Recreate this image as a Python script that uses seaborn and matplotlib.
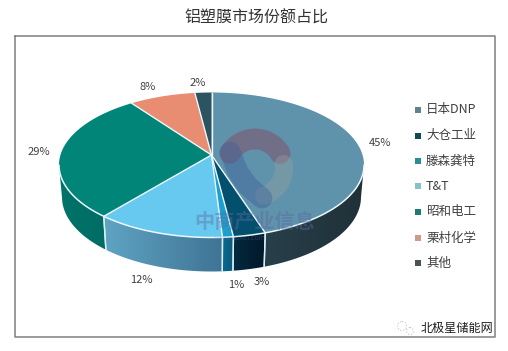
#!/usr/bin/env python3
# -*- coding: utf-8 -*-
import matplotlib
matplotlib.use("Agg")
import matplotlib.pyplot as plt
import numpy as np
import seaborn as sns
from matplotlib.colors import LinearSegmentedColormap
from matplotlib.patches import Circle, Polygon

sns.set_theme(style="white", context="notebook")
plt.rcParams['font.family'] = ['Noto Sans CJK SC', 'DejaVu Sans']

title = "铝塑膜市场份额占比"
names = ['日本DNP', '大仓工业', '滕森龚特', 'T&T', '昭和电工', '栗村化学', '其他']
shares = [45, 3, 1, 12, 29, 8, 2]
top_colors = ['#5f92ab', '#03506e', '#1a9fcf', '#68c9f0', '#008578', '#e88c72', '#2b5361']
wall_left = ['#27404a', '#04293d', '#0b6a90', '#5fa3c3', '#00736a', '#00736a', '#27404a']
wall_right = ['#203038', '#02182a', '#0a5878', '#3f7495', '#006d64', '#006d64', '#203038']
legend_colors = ['#5f8190', '#0f4a55', '#2b8a9c', '#82c3cc', '#1f7a74', '#cf9a8c', '#4a5458']
label_xy = [(380, 143), (262, 282), (236, 285), (141, 280), (39, 152), (148, 87), (198, 83)]
legend_y = [110, 136, 161, 186, 212, 238, 263]

# pie geometry, image pixels
cx, cy, rx, ry = 211.5, 165, 152.5, 72.5
bx, by, brx, bry = 211.5, 197, 149.5, 74.5
tilt = 0.138


def rim(theta):
    # circle angle (clockwise from 12 o'clock) to the tilted ellipse
    u, v = np.sin(theta), np.cos(theta)
    den = 1 + tilt * v
    xp = u * np.sqrt(1 - tilt ** 2) / den
    yp = (v + tilt) / den
    return cx + rx * xp, cy - ry * yp


def lower(x, y):
    return bx + (x - cx) * brx / rx, by + (y - cy) * bry / ry


apex = (cx, cy - ry * tilt)

fig = plt.figure(figsize=(5.08, 3.51), dpi=100, facecolor='white')
ax = fig.add_axes([0, 0, 1, 1])

edges = np.cumsum([0] + shares) / sum(shares) * 2 * np.pi

# walls first
for i in range(len(shares)):
    th = np.linspace(edges[i], edges[i + 1], 120)
    x, y = rim(th)
    keep = y >= cy
    if not keep.any():
        continue
    x, y = x[keep], y[keep]
    lx, ly = lower(x, y)
    poly = Polygon(np.r_[np.c_[x, y], np.c_[lx, ly][::-1]], closed=True,
                   fc='none', ec='none')
    ax.add_patch(poly)
    cmap = LinearSegmentedColormap.from_list('w', [wall_left[i], wall_right[i]])
    x0, x1 = min(x.min(), lx.min()), max(x.max(), lx.max())
    im = ax.imshow(np.linspace(0, 1, 64)[None, :], cmap=cmap, aspect='auto',
                   extent=(x0, x1, ly.max() + 2, y.min() - 2), zorder=2)
    im.set_clip_path(poly)
    # white seam between wall sections
    for xx, yy, ll, mm in [(x[0], y[0], lx[0], ly[0]), (x[-1], y[-1], lx[-1], ly[-1])]:
        if min(abs(xx - cx - rx), abs(xx - cx + rx)) > 3:
            ax.plot([xx, ll], [yy, mm], color='#d8eef4', lw=1.0, zorder=3)

# top faces
for i in range(len(shares)):
    th = np.linspace(edges[i], edges[i + 1], 160)
    x, y = rim(th)
    ax.add_patch(Polygon(np.r_[[apex], np.c_[x, y]], closed=True, fc=top_colors[i],
                         ec='none', zorder=4))
for e in edges[:-1]:
    x, y = rim(e)
    ax.plot([apex[0], x], [apex[1], y], color='#eef8fb', lw=1.0, zorder=5)
th = np.linspace(0, 2 * np.pi, 600)
x, y = rim(th)
x_low, y_low = x[y >= cy], y[y >= cy]
order = np.argsort(x_low)
ax.plot(x_low[order], y_low[order], color='#e8f8fc', lw=1.1, zorder=5)

# watermark logo and name
t = np.radians(np.linspace(150, 30, 40))
ax.plot(255 + 29 * np.cos(t), 168 - 29 * np.sin(t), color='#8a3f58', alpha=0.42, lw=15,
        solid_capstyle='round', zorder=6)
t = np.radians(np.linspace(8, -72, 30))
ax.plot(255 + 29 * np.cos(t), 168 - 29 * np.sin(t), color='#a8a8a0', alpha=0.3, lw=13,
        solid_capstyle='round', zorder=6)
ax.plot([230, 238, 248, 262], [152, 172, 186, 198], color='#3a5a98', alpha=0.38, lw=15,
        solid_capstyle='round', zorder=6)
ax.text(255, 221, "中商产业信息", ha='center', va='center', fontsize=14.5, fontweight='bold',
        color='#5c6aa0', alpha=0.42, zorder=7)
ax.text(240, 238, "www.askci.com", ha='center', va='center', fontsize=5,
        color='#6a80b0', alpha=0.3, zorder=7)

# frame and title
ax.plot([15, 15, 495, 495, 15], [36, 337, 337, 36, 36], color='#7f7f7f', lw=1.1, zorder=1)
ax.text(256, 18, title, ha='center', va='center', fontsize=11.5, color='#333333')

for (lx_, ly_), s in zip(label_xy, shares):
    ax.text(lx_, ly_, f"{s}%", ha='center', va='center', fontsize=8, color='#404040')

for yy, name, col in zip(legend_y, names, legend_colors):
    ax.scatter([418], [yy], marker='s', s=14, color=col, linewidths=0, zorder=8)
    ax.text(426, yy, name, ha='left', va='center', fontsize=9, color='#404040')

# footer badge
ax.add_patch(Circle((402, 326), 4.5, fc='none', ec='#c4c4c4', lw=0.8, ls=':', zorder=8))
ax.add_patch(Circle((410, 331), 3.5, fc='none', ec='#c4c4c4', lw=0.8, ls=':', zorder=8))
ax.text(457, 328, "北极星储能网", ha='center', va='center', fontsize=8.7, color='#1e1e1e',
        fontweight='medium', zorder=8)

ax.set_xlim(0, 508)
ax.set_ylim(351, 0)
ax.axis('off')
fig.savefig('out.png', dpi=100, facecolor='white')
